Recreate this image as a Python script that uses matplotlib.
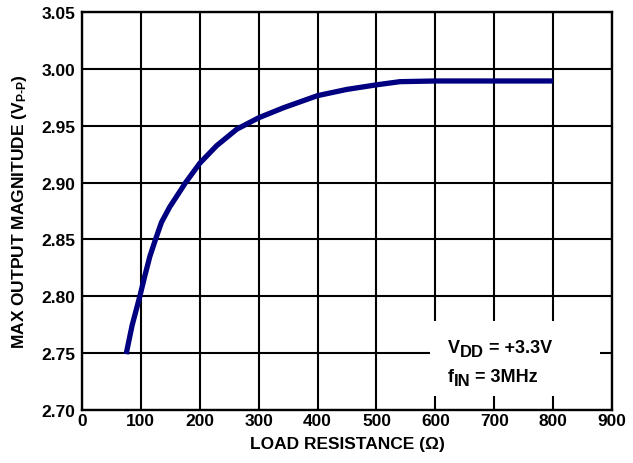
import matplotlib
matplotlib.use("Agg")
import matplotlib.pyplot as plt
from matplotlib.patches import Rectangle
from matplotlib.transforms import offset_copy

load_resistance = [75, 85, 98.3, 106.8, 115.3, 124.9, 135, 149, 166, 176, 200, 228.6,
                   263, 300, 343, 400, 450, 500, 540, 600, 700, 800]
max_output = [2.749, 2.774, 2.800, 2.818, 2.835, 2.850, 2.865, 2.8785, 2.892, 2.900,
              2.917, 2.9324, 2.947, 2.957, 2.966, 2.9765, 2.982, 2.986, 2.9888,
              2.9894, 2.9894, 2.9894]
x_ticks = [0, 100, 200, 300, 400, 500, 600, 700, 800, 900]
y_ticks = [2.70, 2.75, 2.80, 2.85, 2.90, 2.95, 3.00, 3.05]

plt.rcParams['font.family'] = ['Liberation Sans', 'DejaVu Sans']
plt.rcParams['font.weight'] = 'bold'
plt.rcParams['mathtext.fontset'] = 'custom'
plt.rcParams['mathtext.rm'] = 'Liberation Sans:bold'
plt.rcParams['mathtext.bf'] = 'Liberation Sans:bold'
plt.rcParams['mathtext.it'] = 'Liberation Sans:bold'

FS = 12.5

fig = plt.figure(figsize=(6.33, 4.64), dpi=100)
ax = fig.add_axes([0.1295, 0.1147, 0.8373, 0.857])

ax.plot(load_resistance, max_output, color='#000080', lw=3.8,
        solid_capstyle='butt', solid_joinstyle='round', zorder=4)

ax.set_xlim(0, 900)
ax.set_ylim(2.70, 3.05)
ax.set_xticks(x_ticks)
ax.set_yticks(y_ticks)
ax.set_xticklabels([str(v) for v in x_ticks])
ax.set_yticklabels([f"{v:.2f}" for v in y_ticks])
ax.grid(True, color='black', lw=1.5)
ax.tick_params(length=0, labelsize=FS)
ax.tick_params(axis='y', pad=5)
ax.tick_params(axis='x', pad=2)
for lbl in ax.get_xticklabels() + ax.get_yticklabels():
    lbl.set_fontweight('bold')
for s in ax.spines.values():
    s.set_linewidth(1.7)
    s.set_zorder(5)

ax.set_xlabel('LOAD RESISTANCE (Ω)', fontsize=FS, fontweight='bold', labelpad=6)
ax.set_ylabel(r'MAX OUTPUT MAGNITUDE (V$_{\mathrm{P\text{-}P}}$)', fontsize=FS,
              fontweight='bold', labelpad=9)

ax.add_patch(Rectangle((591, 2.712), 288, 0.066, facecolor='white',
                       edgecolor='none', zorder=3))

renderer = fig.canvas.get_renderer()


def draw_runs(x, y, runs):
    dx = 0.0
    for txt, size, dy in runs:
        tr = offset_copy(ax.transData, fig=fig, x=dx, y=dy, units='dots')
        t = ax.text(x, y, txt, fontsize=size, fontweight='bold', ha='left',
                    va='baseline', transform=tr, zorder=6)
        dx += t.get_window_extent(renderer).width


draw_runs(621, 2.7509, [('V', 13, 0), ('DD', 12, -4), ('\u00a0=\u00a0+3.3V', 13, 0)])
draw_runs(621, 2.7256, [('f', 13, 0), ('IN', 12, -4), ('\u00a0=\u00a03MHz', 13, 0)])

fig.savefig('out.png', dpi=100)
